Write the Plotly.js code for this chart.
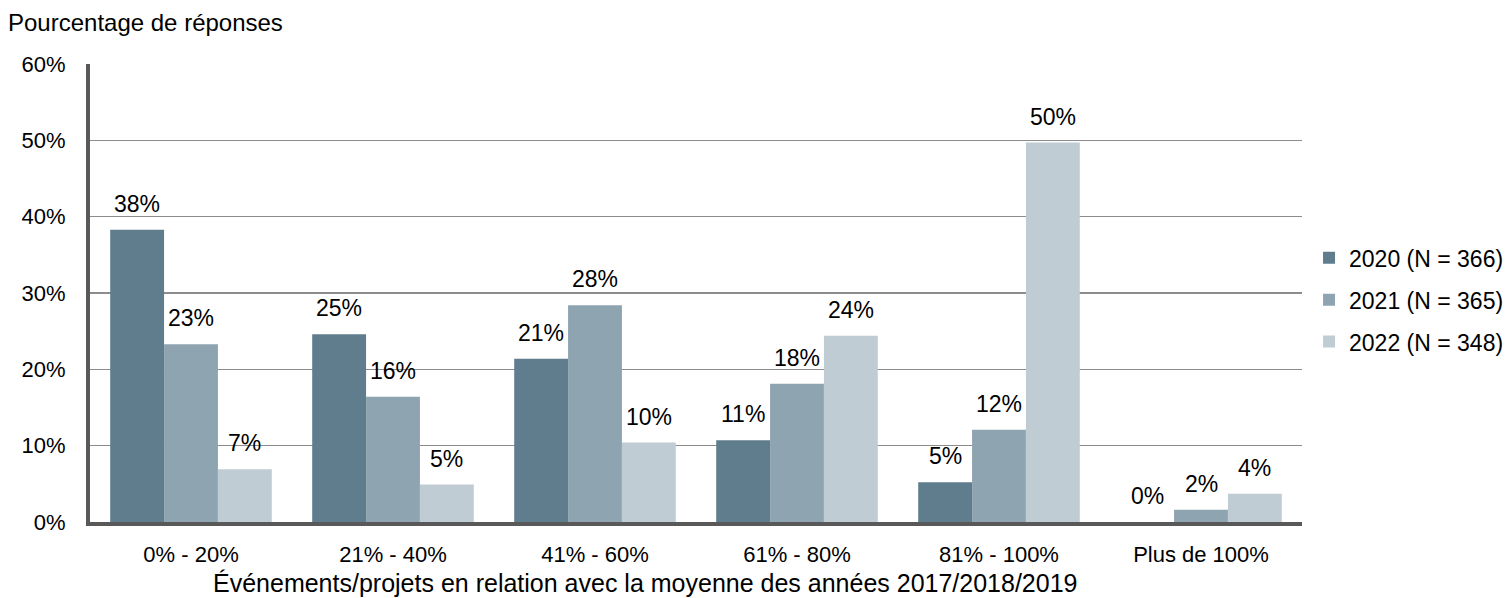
<!DOCTYPE html>
<html><head><meta charset="utf-8">
<script src="https://cdn.plot.ly/plotly-3.0.1.min.js"></script>
<style>body{margin:0;background:#fff}#c{width:1508px;height:598px}</style>
</head><body><div id="c"></div>
<script>
const categories = ["0% - 20%", "21% - 40%", "41% - 60%", "61% - 80%", "81% - 100%", "Plus de 100%"];
const seriesNames = ["2020 (N = 366)", "2021 (N = 365)", "2022 (N = 348)"];
const values2020 = [38.3, 24.6, 21.4, 10.7, 5.2, 0.0];
const values2021 = [23.3, 16.4, 28.4, 18.1, 12.1, 1.6];
const values2022 = [6.9, 4.9, 10.4, 24.4, 49.7, 3.7];
const yTickVals = [0, 10, 20, 30, 40, 50, 60];
const yTickText = ["0%", "10%", "20%", "30%", "40%", "50%", "60%"];
const colors = ["#607d8e", "#8fa4b1", "#bfccd4"];

const fam = "Liberation Sans, Arial, sans-serif";
const all = [values2020, values2021, values2022];
const bargap = 0.2;
const barW = (1 - bargap) / all.length;
const traces = all.map((v, i) => ({
  type: "bar", name: seriesNames[i], x: categories, y: v,
  marker: {color: colors[i]},
  legendgroup: "g" + i,
  hoverinfo: "skip"
}));

const labelAnnotations = [];
all.forEach((v, j) => {
  v.forEach((d, i) => {
    labelAnnotations.push({
      x: i + (j - (all.length - 1) / 2) * barW, y: d, xref: "x", yref: "y",
      text: Math.round(d) + "%", showarrow: false,
      xanchor: "center", yanchor: "bottom", yshift: 11,
      font: {family: fam, size: 23, color: "#000"}
    });
  });
});

const layout = {
  width: 1508, height: 598,
  margin: {l: 90, r: 206, t: 64, b: 76, autoexpand: false},
  paper_bgcolor: "#fff", plot_bgcolor: "#fff",
  font: {family: fam, size: 22, color: "#000"},
  barmode: "group", bargap: bargap, bargroupgap: 0,
  showlegend: true,
  legend: {x: 1.0058, xanchor: "left", y: 0.485, yanchor: "middle",
           font: {family: fam, size: 23, color: "#000"},
           traceorder: "grouped", tracegroupgap: 9, itemwidth: 30},
  xaxis: {
    showline: true, linewidth: 4, linecolor: "#595959",
    ticks: "", showgrid: false, tickfont: {size: 22},
    ticklabelstandoff: 10, automargin: false
  },
  yaxis: {
    range: [0, 60], tickvals: yTickVals, ticktext: yTickText,
    showline: true, linewidth: 4, linecolor: "#595959",
    showgrid: true, gridcolor: "#8c8c8c", gridwidth: 1.5,
    zeroline: false, ticks: "", ticklen: 0, tickfont: {size: 22},
    ticklabelstandoff: 16, automargin: false
  },
  annotations: [{
    text: "Pourcentage de réponses", xref: "paper", yref: "paper",
    x: -0.066, y: 1.0, xanchor: "left", yanchor: "middle", yshift: 42, xshift: -4,
    showarrow: false, font: {size: 24, color: "#000"}
  }, {
    text: "Événements/projets en relation avec la moyenne des années 2017/2018/2019",
    xref: "paper", yref: "paper", x: 0.5, y: 0, xanchor: "center", yanchor: "middle",
    yshift: -61, xshift: -51, showarrow: false, font: {size: 25, color: "#000"}
  }].concat(labelAnnotations)
};
Plotly.newPlot("c", traces, layout, {displayModeBar: false, staticPlot: true});
</script></body></html>
